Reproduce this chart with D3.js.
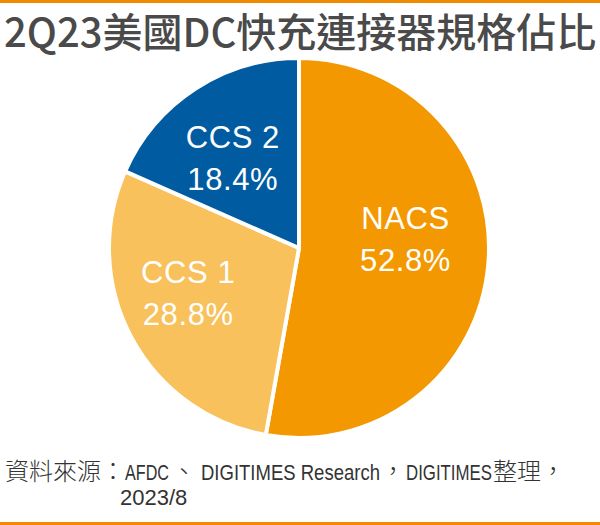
<!DOCTYPE html>
<html><head><meta charset="utf-8">
<script src="https://cdn.jsdelivr.net/npm/d3@7"></script>
<style>body{margin:0;background:#fff}svg{display:block}</style>
</head><body>
<svg id="c" width="600" height="525"></svg>
<script>
const categories = ["NACS", "CCS 1", "CCS 2"];
const values = [52.8, 28.8, 18.4];
const labels = ["52.8%", "28.8%", "18.4%"];
const colors = ["#F39800", "#F8C15C", "#005BA1"];
const titleText = "2Q23美國DC快充連接器規格佔比";
const sourceSegments = ["資料來源：", "AFDC", "、", "DIGITIMES Research", "，", "DIGITIMES", "整理，"];
const sourceLine2 = "2023/8";

const svg = d3.select("#c");
const W = 600, H = 525;
svg.append("rect").attr("x",0).attr("y",0).attr("width",W).attr("height",3).attr("fill","#F08A00");
svg.append("rect").attr("x",0).attr("y",522).attr("width",W).attr("height",3).attr("fill","#F08A00");

svg.append("text").attr("x",4).attr("y",47)
  .attr("font-family","'Noto Sans CJK TC','Noto Sans CJK SC',sans-serif")
  .attr("font-weight",500).attr("font-size",40).attr("fill","#4a4a4a")
  .text(titleText);

const cx = 299, cy = 248, R = 190;
const data = categories.map((c,i)=>({cat:c, value:values[i], label:labels[i], color:colors[i]}));
const pie = d3.pie().value(d=>d.value).sort(null);
const arc = d3.arc().innerRadius(0).outerRadius(R);
const labelArc = d3.arc().innerRadius(112).outerRadius(112);
const g = svg.append("g").attr("transform",`translate(${cx},${cy})`);
const arcs = pie(data);
g.selectAll("path").data(arcs).join("path")
  .attr("d",arc).attr("fill",d=>d.data.color)
  .attr("stroke","#fff").attr("stroke-width",4).attr("stroke-linejoin","round");

const nudge = {"NACS":[-5,-29], "CCS 1":[-12,-18], "CCS 2":[-5,-6]};
arcs.forEach(a=>{
  const [x,y] = labelArc.centroid(a);
  const [dx,dy] = nudge[a.data.cat];
  const t = g.append("text").attr("text-anchor","middle")
    .attr("font-family","'Liberation Sans',Arial,sans-serif")
    .attr("font-size",31).attr("fill","#fff").attr("letter-spacing",0.6);
  t.append("tspan").attr("x",x+dx).attr("y",y+dy).text(a.data.cat);
  t.append("tspan").attr("x",x+dx).attr("y",y+dy+42).text(a.data.label);
});

// footnote: CJK segments in CJK font, Latin segments horizontally condensed
const isLatin = s => /^[A-Za-z0-9 \/]+$/.test(s);
const latinWidths = {"AFDC":44, "DIGITIMES Research":179, "DIGITIMES":86};
const gapsBefore = [0, 0, 3, 5, 1, 1, 1];
const fn = svg.append("g").attr("fill","#333");
let fx = 5;
sourceSegments.forEach((s,i)=>{
  fx += gapsBefore[i];
  if (isLatin(s)) {
    const t = fn.append("text").attr("x",0).attr("y",0)
      .attr("font-family","'Liberation Sans',Arial,sans-serif").attr("font-size",22).text(s);
    const nat = t.node().getComputedTextLength();
    const sx = latinWidths[s] / nat;
    t.attr("transform",`translate(${fx},480) scale(${sx},1)`);
    fx += latinWidths[s];
  } else {
    const t = fn.append("text").attr("x",fx).attr("y",480)
      .attr("font-family","'Noto Sans CJK TC','Noto Sans CJK SC',sans-serif")
      .attr("font-weight",300).attr("font-size",24).text(s);
    fx += t.node().getComputedTextLength();
  }
});
svg.append("text").attr("x",120).attr("y",505).attr("fill","#333")
  .attr("font-family","'Liberation Sans',Arial,sans-serif").attr("font-size",22)
  .text(sourceLine2);
</script>
</body></html>
